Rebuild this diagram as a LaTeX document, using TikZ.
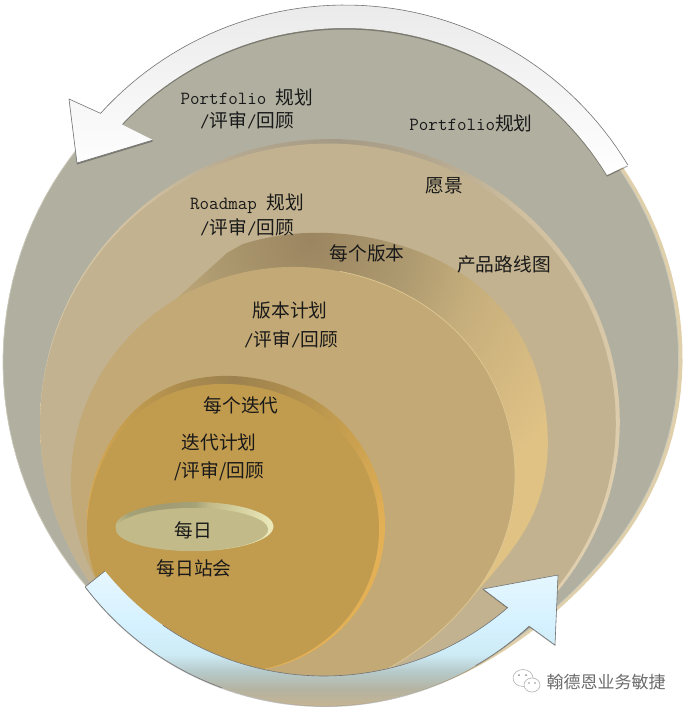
\documentclass[tikz,border=0pt]{standalone}
\usepackage{fontspec}
\newfontfamily\cjkf{Noto Sans CJK SC}
\usetikzlibrary{shadows}
\definecolor{grayC}{HTML}{B1AFA0}
\definecolor{hairC}{HTML}{C9C9BC}
\definecolor{tanrim}{HTML}{DFCFAA}
\definecolor{roadC}{HTML}{C2B28F}
\definecolor{relC}{HTML}{C3A975}
\definecolor{relhair}{HTML}{E0C893}
\definecolor{iterC}{HTML}{C19B4E}
\definecolor{dayC}{HTML}{C2BB89}
\definecolor{qa}{HTML}{A59A85}\definecolor{qb}{HTML}{B5A890}\definecolor{qc}{HTML}{D0C0A0}\definecolor{qd}{HTML}{DFCFAE}
\pgfdeclareradialshading{roadrim}{\pgfpointorigin}{color(0bp)=(qa);color(4.2bp)=(qb);color(8.3bp)=(qc);color(18.75bp)=(qd);color(50bp)=(qd)}
\definecolor{ra}{HTML}{9A8560}\definecolor{rb}{HTML}{AE9A70}\definecolor{rc}{HTML}{C6AE7C}\definecolor{rd}{HTML}{E0C285}
\pgfdeclareradialshading{relshade}{\pgfpointorigin}{color(0bp)=(ra);color(5bp)=(rb);color(8.5bp)=(rc);color(15bp)=(rd);color(50bp)=(rd)}
\definecolor{ia}{HTML}{9C8250}\definecolor{ib}{HTML}{AC8C4E}\definecolor{ic}{HTML}{C19B4E}\definecolor{id}{HTML}{E3B055}
\pgfdeclareradialshading{iterrim}{\pgfpointorigin}{color(0bp)=(ia);color(4bp)=(ib);color(8.5bp)=(ic);color(16.4bp)=(id);color(50bp)=(id)}
\definecolor{da}{HTML}{9F9A72}\definecolor{db}{HTML}{A6A278}\definecolor{dc}{HTML}{C2BB89}\definecolor{dd}{HTML}{EAE8BA}
\pgfdeclareradialshading{dayrim}{\pgfpointorigin}{color(0bp)=(da);color(6.7bp)=(db);color(9.6bp)=(dc);color(21.7bp)=(dd);color(50bp)=(dd)}
\definecolor{ba}{HTML}{C5B493}\definecolor{bb}{HTML}{B5B3A0}\definecolor{bc}{HTML}{B5C8C8}\definecolor{bd}{HTML}{CDEBF5}\definecolor{be}{HTML}{D5F1FF}\definecolor{bf}{HTML}{E6F7FF}
\pgfdeclareverticalshading{bluearrow}{100bp}{color(0bp)=(ba);color(25bp)=(ba);color(31bp)=(bb);color(37.5bp)=(bc);color(44bp)=(bd);color(55bp)=(be);color(75bp)=(bf);color(100bp)=(bf)}
\tikzset{
 lbl/.style={inner sep=0pt,font=\ttfamily\fontsize{18.5}{20}\selectfont,text=black!90},
 wmk/.style={inner sep=0pt,font=\cjkf\fontsize{17}{19}\selectfont,text=black!58},
 arrowedge/.style={draw=black!55,line width=.6pt},
 bubble/.style={draw=black!30,fill=white,line width=.6pt},
 eye/.style={fill=black!45},
}
\newcommand\zz[1]{{\cjkf\fontsize{18.7}{20}\selectfont #1}}
% cx,cy,rx,ry, dent angle, dent size, dent power, bump angle, bump size
\newcommand\blob[9]{plot[domain=0:360,samples=144] ({#1+#3*cos(\x)*(1-#6*max(cos(\x-#5),0)^#7+#9*max(cos(\x-#8),0)^8)},{#2+#4*sin(\x)*(1-#6*max(cos(\x-#5),0)^#7+#9*max(cos(\x-#8),0)^8)}) -- cycle}
\begin{document}
\begin{tikzpicture}[x=1pt,y=-1pt]
\useasboundingbox (0,0) rectangle (687,713);
% outer shape with tan rim
\fill[tanrim] \blob{343}{362}{340}{343}{49}{.04}{8}{0}{0};
\filldraw[fill=grayC,draw=hairC,line width=.7pt] \blob{341}{362}{338}{341}{49}{.04}{8}{0}{0};
% roadmap
\begin{scope}
\clip \blob{330}{423}{290}{284}{50}{.02}{8}{0}{0};
\shade[shading=roadrim] (337,139) circle (600);
\end{scope}
\fill[roadC] \blob{328}{424.5}{288}{281}{50}{.02}{8}{0}{0};
% release crescent
\begin{scope}
\clip (0,713) -- (100,385) -- (153,320) -- (227,253) -- (320,200) -- (687,200) -- (687,713) -- cycle;
\clip \blob{315}{455}{232}{222}{40}{.07}{12}{320}{.04};
\shade[shading=relshade] (310,240) circle (500);
\end{scope}
% release disc
\fill[relC] \blob{293}{481}{222}{214}{47}{.035}{8}{320}{.015};
\begin{scope}
\clip (340,200) rectangle (687,713);
\draw[relhair,line width=.7pt] \blob{293}{481}{222}{214}{47}{.035}{8}{320}{.015};
\end{scope}
% iteration
\begin{scope}
\clip \blob{236}{525}{149}{147}{0}{0}{8}{240}{.04};
\shade[shading=iterrim] (233,378) circle (320);
\end{scope}
\fill[iterC] \blob{233}{529}{146}{143}{0}{0}{8}{240}{.04};
% daily
\begin{scope}
\clip (194.5,526.5) circle [x radius=79,y radius=24.5];
\shade[shading=dayrim] (160,500) circle (130);
\end{scope}
\fill[dayC] (192,529.5) circle [x radius=76,y radius=21.5];
% top arrow
\shade[top color=black!8,middle color=white,bottom color=white,drop shadow={shadow xshift=0pt,shadow yshift=-1.5pt,opacity=.3,fill=black}]
 plot[domain=31:137.8,samples=60] ({345+330*cos(\x)},{335-330*sin(\x)}) -- (69,99) -- (77,163) -- (153,140) -- (123,125)
 -- plot[domain=136.6:31.4,samples=60] ({345+307*cos(\x)},{335-307*sin(\x)}) -- cycle;
\draw[arrowedge] plot[domain=31:137.8,samples=60] ({345+330*cos(\x)},{335-330*sin(\x)}) -- (69,99) -- (77,163) -- (153,140);
% bottom arrow
\shade[shading=bluearrow,drop shadow={shadow xshift=0pt,shadow yshift=-1pt,opacity=.25,fill=black}]
 plot[domain=217.2:312.7,samples=60] ({325+301*cos(\x)},{405-301*sin(\x)}) -- (555,645) -- (558,575) -- (483,589) -- (508,608)
 -- plot[domain=310.8:218.8,samples=60] ({324+281*cos(\x)},{395-281*sin(\x)}) -- cycle;
\draw[arrowedge] plot[domain=217.2:250,samples=30] ({325+301*cos(\x)},{405-301*sin(\x)});
\draw[arrowedge] (105,571) -- (85,587);
\draw[arrowedge] plot[domain=300:312.7,samples=10] ({325+301*cos(\x)},{405-301*sin(\x)}) -- (555,645) -- (558,575) -- (483,589) -- (508,608) -- plot[domain=310.8:235,samples=50] ({324+281*cos(\x)},{395-281*sin(\x)});
% labels
\node[lbl] (pfa) at (247,97) {Portfolio \zz{规划}};
\node[lbl] (pfb) at (247,120) {/\zz{评审}/\zz{回顾}};
\node[lbl] (pfc) at (471,123) {Portfolio\zz{规划}};
\node[lbl] (vis) at (444,186) {\zz{愿景}};
\node[lbl] (rma) at (247,204) {Roadmap \zz{规划}};
\node[lbl] (rmb) at (247,227) {/\zz{评审}/\zz{回顾}};
\node[lbl] (rel) at (367,253) {\zz{每个版本}};
\node[lbl] (prm) at (504,264) {\zz{产品路线图}};
\node[lbl] (rpa) at (290,310) {\zz{版本计划}};
\node[lbl] (rpb) at (291,339) {/\zz{评审}/\zz{回顾}};
\node[lbl] (ite) at (241,405) {\zz{每个迭代}};
\node[lbl] (ipa) at (219,442) {\zz{迭代计划}};
\node[lbl] (ipb) at (219,471) {\zz{/评审/回顾}};
\node[lbl] (day) at (193,530) {\zz{每日}};
\node[lbl] (sta) at (194,568) {\zz{每日站会}};
% watermark
\draw[bubble] (523,678) circle [x radius=10,y radius=8.5];
\draw[bubble] (532,685) circle [x radius=8,y radius=7];
\fill[eye] (519,675) circle (1) (526,675) circle (1) (529,683) circle (.9) (535,683) circle (.9);
\node[wmk] (wm) at (606,682) {翰德恩业务敏捷};
\end{tikzpicture}
\end{document}
